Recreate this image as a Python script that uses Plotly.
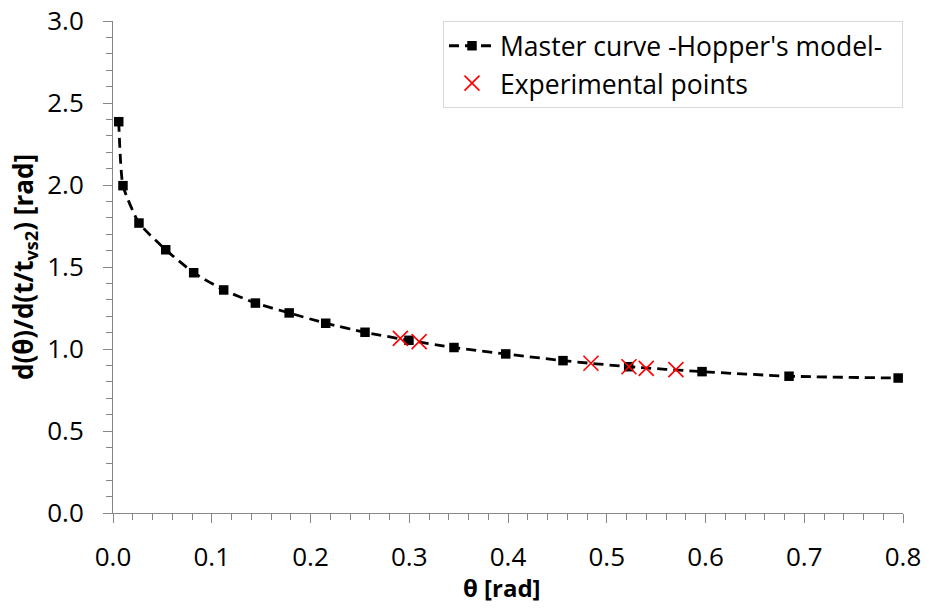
import plotly.graph_objects as go

# Master curve (Hopper's model)
master_theta = [0.0058, 0.0101, 0.0263, 0.0534, 0.0817, 0.1121, 0.1442, 0.1784, 0.2154,
                0.2552, 0.2997, 0.3453, 0.3977, 0.4557, 0.5222, 0.5965, 0.6846, 0.7951]
master_rate = [2.386, 1.996, 1.768, 1.605, 1.465, 1.360, 1.280, 1.220, 1.157,
               1.102, 1.053, 1.009, 0.970, 0.929, 0.892, 0.862, 0.834, 0.823]

# Experimental points
exp_theta = [0.291, 0.310, 0.484, 0.5225, 0.540, 0.570]
exp_rate = [1.065, 1.045, 0.913, 0.892, 0.882, 0.874]

x_ticks = [0.0, 0.1, 0.2, 0.3, 0.4, 0.5, 0.6, 0.7, 0.8]
y_ticks = [0.0, 0.5, 1.0, 1.5, 2.0, 2.5, 3.0]

FONT = "Open Sans"
AX = "#868686"

fig = go.Figure()
fig.add_trace(go.Scatter(
    x=master_theta, y=master_rate, mode="lines+markers",
    name="Master curve -Hopper's model-\u00a0\u00a0",
    line=dict(color="black", width=2.8, dash="10px,6px", shape="spline", smoothing=0.5),
    marker=dict(symbol="square", size=9.5, color="black"),
))
fig.add_trace(go.Scatter(
    x=exp_theta, y=exp_rate, mode="markers",
    name="Experimental points",
    marker=dict(symbol="x-thin", size=15, color="#ff0000",
                line=dict(color="#ff0000", width=1.6)),
))

fig.update_layout(
    width=929, height=612,
    margin=dict(l=113, r=26, t=21, b=99, autoexpand=False),
    paper_bgcolor="white", plot_bgcolor="white",
    font=dict(family=FONT, size=26, color="black"),
    showlegend=True,
    legend=dict(x=1, y=1, xanchor="right", yanchor="top",
                bgcolor="white", bordercolor="#d9d9d9", borderwidth=1,
                font=dict(family=FONT, size=26.5, color="black"),
                itemwidth=46, tracegroupgap=0),
    annotations=[dict(
        text="<b>θ [rad]</b>", xref="paper", yref="paper", x=0.493, y=0,
        xanchor="center", yanchor="middle", yshift=-74, showarrow=False,
        font=dict(family=FONT, size=24, color="black"),
    )],
)
fig.update_xaxes(
    range=[0, 0.8], tickvals=x_ticks, tickformat=".1f", automargin=False,
    showline=True, linecolor=AX, linewidth=1, showgrid=False, zeroline=False,
    ticks="outside", ticklen=9, tickcolor=AX, tickwidth=1,
    ticklabelstandoff=12, ticklabeloverflow="allow",
    minor=dict(dtick=0.02, ticks="outside", ticklen=6, tickcolor=AX, tickwidth=1, showgrid=False),
)
fig.update_yaxes(
    range=[0, 3.0], tickvals=y_ticks, tickformat=".1f", automargin=False,
    showline=True, linecolor=AX, linewidth=1, showgrid=False, zeroline=False,
    ticks="outside", ticklen=9, tickcolor=AX, tickwidth=1,
    ticklabelstandoff=14, ticklabeloverflow="allow",
    minor=dict(dtick=0.1, ticks="outside", ticklen=6, tickcolor=AX, tickwidth=1, showgrid=False),
    title=dict(text="<b>d(θ)/d(t/t<sub>vs2</sub>) [rad]</b>", font=dict(family=FONT, size=26), standoff=6),
)

fig.write_html("out.html", config={"displayModeBar": False},
               post_script="document.body.style.margin='0';")
